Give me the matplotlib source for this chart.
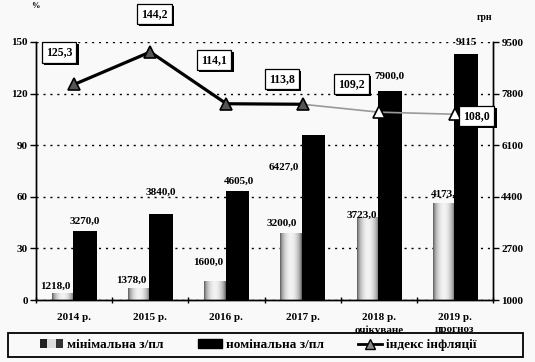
import numpy as np
import matplotlib
matplotlib.use("Agg")
import matplotlib.pyplot as plt
import matplotlib.patheffects as pe
from matplotlib.patches import Patch, Rectangle
from matplotlib.lines import Line2D
from matplotlib.legend_handler import HandlerBase
from matplotlib.font_manager import FontProperties

plt.rcParams['font.family'] = ['Liberation Serif', 'DejaVu Serif']
plt.rcParams['font.weight'] = 'bold'
plt.rcParams['font.size'] = 8

# дані
years = ["2014 р.", "2015 р.", "2016 р.", "2017 р.", "2018 р.\nочікуване", "2019 р.\nпрогноз"]
min_wage = [1218.0, 1378.0, 1600.0, 3200.0, 3723.0, 4173.0]
nom_wage = [3270.0, 3840.0, 4605.0, 6427.0, 7900.0, 9115.0]
inflation = [125.3, 144.2, 114.1, 113.8, 109.2, 108.0]

min_text = ["1218,0", "1378,0", "1600,0", "3200,0", "3723,0", "4173,0"]
nom_text = ["3270,0", "3840,0", "4605,0", "6427,0", "7900,0", "9115"]
infl_text = ["125,3", "144,2", "114,1", "113,8", "109,2", "108,0"]

# зсуви підписів у пікселях (dx, dy)
min_off = [(-7, 7), (-7, 8), (-7, 19), (-9, 10), (-6, 2), (3, 9)]
nom_off = [(0, 10), (0, 22), (2, 9), (-30, -32), (0, 14), (0, 11)]
infl_off = [(-15, 32), (4, 38), (-12, 44), (-21, 25), (-27, 28), (22, -2)]

bg = '#f9f9f9'
fig = plt.figure(figsize=(5.35, 3.62), dpi=100, facecolor=bg)
ax = fig.add_axes([36 / 535, 1 - 300 / 362, 457 / 535, 258 / 362])
ax2 = ax.twinx()
ax.set_zorder(ax2.get_zorder() + 1)
ax.patch.set_visible(False)
ax2.set_facecolor(bg)

x = np.arange(len(years))

# номінальна з/пл
ax2.bar(x - 0.01, nom_wage, width=0.31, align='edge', color='black', zorder=3)

# мінімальна з/пл з градієнтом
t = np.linspace(0, 1, 40)
grad = (0.35 + 0.6 * np.sin(np.pi * t) ** 0.6)[None, :]
for xi, v in zip(x, min_wage):
    ax2.imshow(grad, extent=(xi - 0.29, xi - 0.01, 1000, v), aspect='auto',
               cmap='gray', vmin=0, vmax=1, zorder=1, interpolation='bilinear')

ax2.set_xlim(-0.5, len(years) - 0.5)
ax2.set_ylim(1000, 9500)
ax2.set_yticks([1000, 2700, 4400, 6100, 7800, 9500])
ax2.yaxis.grid(True, linestyle=(0, (1.5, 3.5)), color='black', linewidth=1)
ax2.set_axisbelow(True)
ax2.tick_params(axis='y', direction='out', length=4, width=1, pad=2)

px = 0.72
for xi, v, s, (dx, dy) in zip(x, min_wage, min_text, min_off):
    ax2.annotate(s, (xi - 0.15, v), xytext=(dx * px, dy * px), textcoords='offset points',
                 ha='center', va='center', zorder=2)
for xi, v, s, (dx, dy) in zip(x, nom_wage, nom_text, nom_off):
    ax2.annotate(s, (xi + 0.145, v), xytext=(dx * px, dy * px), textcoords='offset points',
                 ha='center', va='center', zorder=4)

# індекс інфляції
ax.plot(x[:4], inflation[:4], color='black', lw=2.3, zorder=3)
ax.plot(x[3:], inflation[3:], color='#9a9a9a', lw=1.2, zorder=2)
ax.plot(x[:4], inflation[:4], ls='none', marker='^', ms=9, mfc='#555555', mec='black', mew=1.2, zorder=4)
ax.plot(x[4:], inflation[4:], ls='none', marker='^', ms=9, mfc='white', mec='black', mew=1.2, zorder=4)

for xi, v, s, (dx, dy) in zip(x, inflation, infl_text, infl_off):
    tx = ax.annotate(s, (xi, v), xytext=(dx * px, dy * px), textcoords='offset points',
                     ha='center', va='center', fontsize=8.5, zorder=6, annotation_clip=False,
                     bbox=dict(boxstyle='square,pad=0.35', fc='white', ec='black', lw=0.9))
    tx.get_bbox_patch().set_path_effects([pe.withSimplePatchShadow(offset=(1.5, -1.5),
                                                                   shadow_rgbFace='black', alpha=1)])

ax.set_xlim(-0.5, len(years) - 0.5)
ax.set_ylim(0, 150)
ax.set_yticks([0, 30, 60, 90, 120, 150])
ax.tick_params(axis='y', direction='out', length=4, width=1, pad=2)
ax.set_xticks(x)
ax.set_xticklabels(years, linespacing=1.45)
ax.set_xticks(np.arange(-0.5, len(years)), minor=True)
ax.tick_params(axis='x', which='major', length=0, pad=9)
ax.tick_params(axis='x', which='minor', direction='inout', length=5, width=1)

for a in (ax, ax2):
    a.spines['top'].set_visible(False)
    for sp in ('left', 'right', 'bottom'):
        a.spines[sp].set_linewidth(1)

fig.text(35 / 535, 1 - 6 / 362, "%", fontsize=6, ha='center', va='center')
fig.text(485 / 535, 1 - 17 / 362, "грн", fontsize=7, ha='center', va='center')


class GradHandler(HandlerBase):
    def create_artists(self, legend, orig, xd, yd, w, h, fs, trans):
        parts = [(0.0, 0.3, '#222222'), (0.3, 0.4, '#dddddd'), (0.7, 0.3, '#333333')]
        return [Rectangle((xd + w * a, yd), w * b, h, facecolor=c, edgecolor='none',
                          transform=trans) for a, b, c in parts]


# рамка легенди
fig.patches.append(Rectangle((8 / 535, 1 - 357 / 362), 515 / 535, 24 / 362,
                             transform=fig.transFigure, fill=True, facecolor=bg,
                             edgecolor='black', lw=1.3, zorder=9))
handles = [
    Patch(label='мінімальна з/пл'),
    Patch(facecolor='black', edgecolor='black', label='номінальна з/пл'),
    Line2D([], [], color='black', lw=2, marker='^', ms=7, mfc='#888888', mec='black',
           label='індекс інфляції'),
]
leg_font = FontProperties(family='Liberation Serif', weight='bold', size=9.5)
leg = fig.legend(handles=handles, loc='center', ncol=3,
                 bbox_to_anchor=(258 / 535, 1 - 345 / 362),
                 handler_map={handles[0]: GradHandler()},
                 frameon=False, prop=leg_font, handlelength=1.8,
                 handletextpad=0.3, columnspacing=2.6)
leg.set_zorder(10)

fig.savefig("out.png", dpi=100, facecolor=bg)
